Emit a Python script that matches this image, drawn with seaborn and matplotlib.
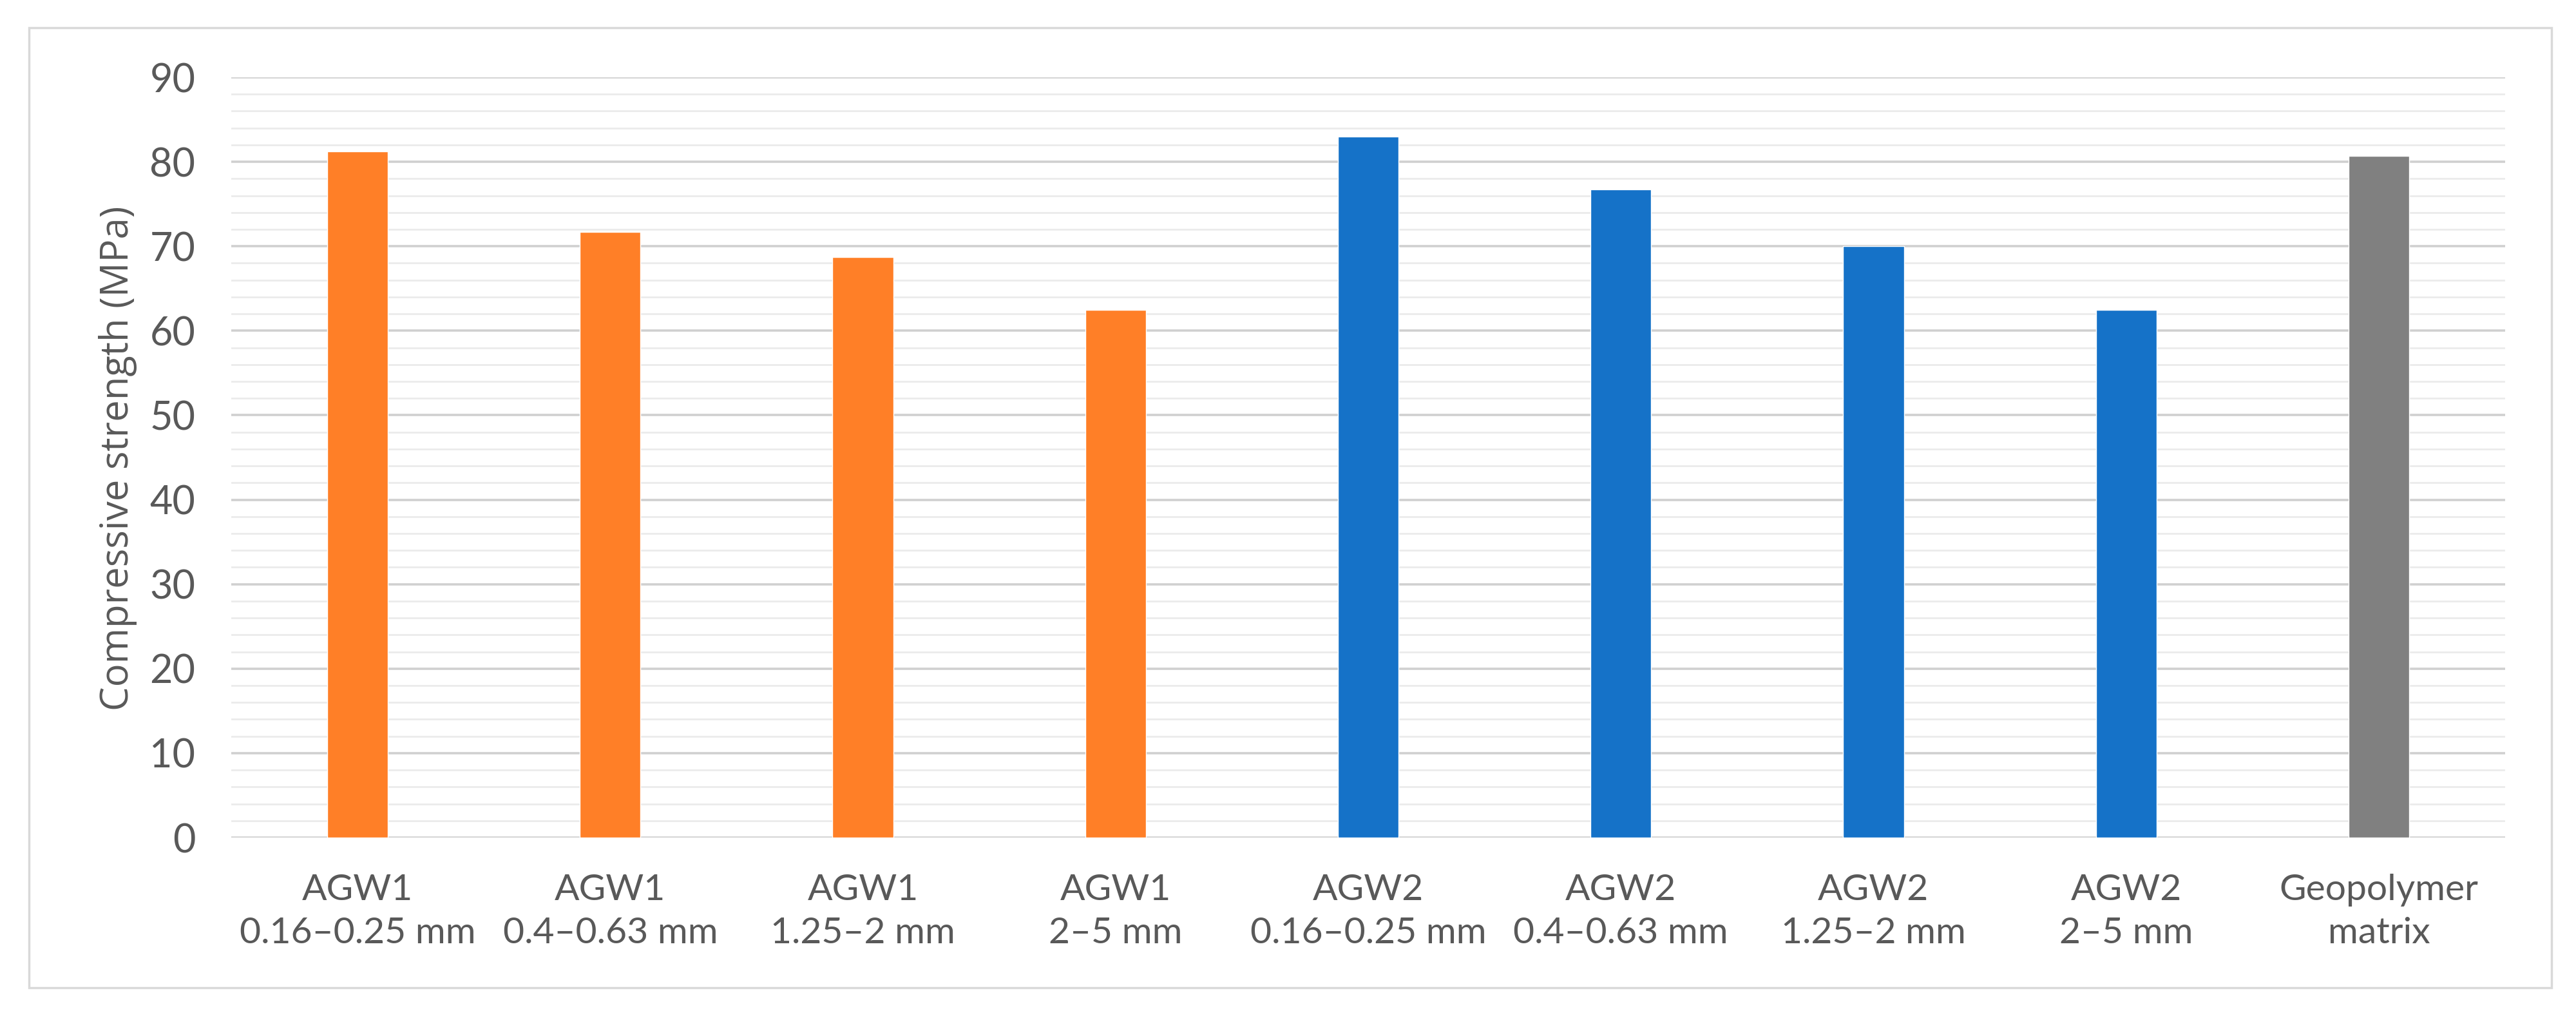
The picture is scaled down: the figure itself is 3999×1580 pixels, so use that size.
import matplotlib
matplotlib.use("Agg")
import matplotlib.pyplot as plt
import seaborn as sns
import pandas as pd
from matplotlib.patches import Rectangle
from matplotlib.ticker import MultipleLocator

# values
labels = ["AGW1\n0.16–0.25 mm", "AGW1\n0.4–0.63 mm", "AGW1\n1.25–2 mm", "AGW1\n2–5 mm",
          "AGW2\n0.16–0.25 mm", "AGW2\n0.4–0.63 mm", "AGW2\n1.25–2 mm", "AGW2\n2–5 mm",
          "Geopolymer\nmatrix"]
strength = [81.2, 71.7, 68.7, 62.5, 83.0, 76.7, 70.0, 62.5, 80.7]
colors = ["#FF7F27"] * 4 + ["#1572C8"] * 4 + ["#808080"]

df = pd.DataFrame({"sample": labels, "strength": strength})

sns.set_style("white")
plt.rcParams["font.family"] = ["Lato", "DejaVu Sans"]

fig = plt.figure(figsize=(39.99, 15.8), dpi=100)
ax = fig.add_axes([359 / 3999, 1 - 1300 / 1580, (3889 - 359) / 3999, (1300 - 120) / 1580])

sns.barplot(data=df, x="sample", y="strength", hue="sample", palette=colors,
            width=0.24, legend=False, ax=ax, zorder=3, saturation=1)

ax.set_ylim(0, 90)
ax.set_xlim(-0.5, 8.5)
ax.yaxis.set_major_locator(MultipleLocator(10))
ax.yaxis.set_minor_locator(MultipleLocator(2))
ax.grid(axis="y", which="major", color="#d0d0d0", linewidth=2.6, zorder=0)
ax.grid(axis="y", which="minor", color="#ebebeb", linewidth=2.0, zorder=0)
ax.set_axisbelow(True)
for s in ax.spines.values():
    s.set_visible(False)

ax.tick_params(axis="both", which="both", length=0, colors="#595959")
ax.tick_params(axis="y", pad=40, labelsize=44)
ax.tick_params(axis="x", pad=40, labelsize=41)
for t in ax.get_xticklabels():
    t.set_linespacing(1.4)
ax.set_xlabel("")
ax.set_ylabel("")

fig.text(183 / 3999, 1 - 711 / 1580, "Compressive strength (MPa)", rotation=90,
         ha="center", va="center", fontsize=43, color="#595959",
         family=["Open Sans", "DejaVu Sans"])

# outer chart frame
fig.patches.append(Rectangle((45 / 3999, 1 - 1533 / 1580), (3961 - 45) / 3999, (1533 - 43) / 1580,
                             transform=fig.transFigure, fill=False, edgecolor="#d9d9d9",
                             linewidth=2.5))

fig.savefig("out.png", dpi=100, facecolor="white")
